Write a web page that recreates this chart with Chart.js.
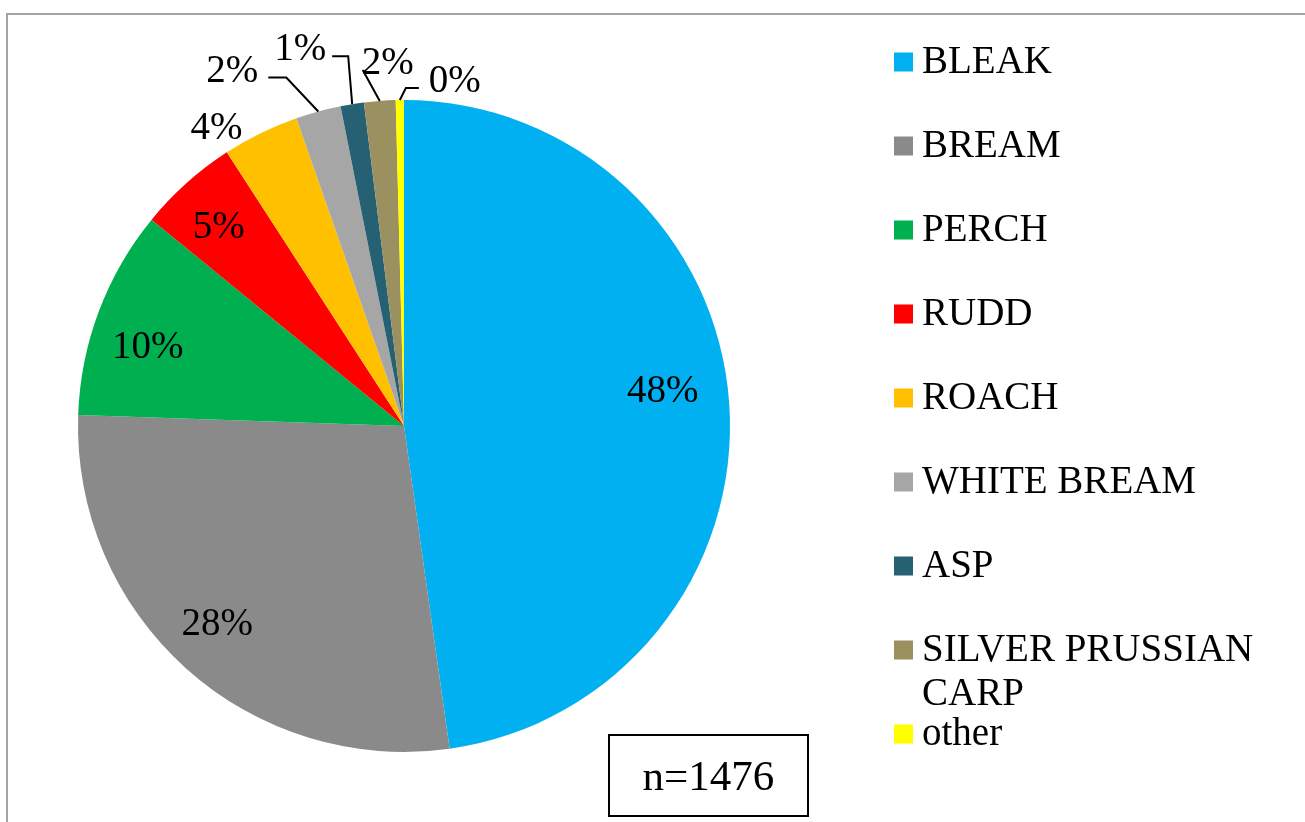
<!DOCTYPE html>
<html>
<head>
<meta charset="utf-8">
<script src="https://cdn.jsdelivr.net/npm/chart.js@4.4.1/dist/chart.umd.min.js"></script>
<style>
  html, body { margin: 0; padding: 0; background: #fff; }
  #wrap { position: relative; width: 1305px; height: 822px; overflow: hidden; }
  #frame { position: absolute; left: 6px; top: 13px; width: 1400px; height: 900px;
           border-top: 2px solid #a3a3a3; border-left: 2px solid #a3a3a3; }
  #chart { position: absolute; left: 0; top: 0; }
  #count { position: absolute; left: 608px; top: 734px; width: 197px; height: 79px;
           border: 2px solid #000; box-sizing: content-box;
           font: 43px 'Liberation Serif', 'Times New Roman', serif; color: #000;
           display: flex; align-items: center; justify-content: center; }
</style>
</head>
<body>
<div id="wrap">
  <div id="frame"></div>
  <canvas id="chart" width="1305" height="822"></canvas>
  <div id="count">n=1476</div>
</div>
<script>
// catch composition by species (number of fish)
const species = ['BLEAK', 'BREAM', 'PERCH', 'RUDD', 'ROACH', 'WHITE BREAM', 'ASP', 'SILVER PRUSSIAN CARP', 'other'];
const catches = [705, 410, 153, 73, 56, 33, 17, 23, 6];

const palette = ['#00b0f0', '#8a8a8a', '#00b050', '#ff0000', '#ffc000', '#a6a6a6', '#256073', '#9b9160', '#ffff00'];

const serif = "'Liberation Serif', 'Times New Roman', serif";

// where each percentage goes: inside slices sit at a fraction of the radius,
// the thin ones sit outside the rim with a leader line
const labelPlacement = [
    { dx: -8, dy: -18 },
    { dx: -8, dy: -3 },
    { dx: -6, dy: 13 },
    { dx: -7, dy: -2 },
    { outside: true, dx: -44, dy: -7 },
    { outside: true, dx: -86, dy: -42, leader: [[-32, -34], [-50, -34]] },
    { outside: true, dx: -52, dy: -57, leader: [[-4, -48], [-20, -48]] },
    { outside: true, dx: 8, dy: -40, leader: [[-17, -31]] },
    { outside: true, dx: 55, dy: -21, leader: [[6, -12], [19, -12]] }
];

const sliceLabels = {
    id: 'sliceLabels',
    afterDatasetsDraw(chart, args, opts) {
        const { ctx } = chart;
        const values = chart.data.datasets[0].data;
        const total = values.reduce((a, b) => a + b, 0);
        ctx.save();
        ctx.font = opts.font;
        ctx.fillStyle = '#000';
        ctx.strokeStyle = '#000';
        ctx.lineWidth = 2;
        ctx.textAlign = 'center';
        ctx.textBaseline = 'alphabetic';
        chart.getDatasetMeta(0).data.forEach((arc, i) => {
            const { x, y, startAngle, endAngle, outerRadius } =
                arc.getProps(['x', 'y', 'startAngle', 'endAngle', 'outerRadius'], true);
            const mid = (startAngle + endAngle) / 2;
            const place = opts.placement[i];
            const r = place.outside ? outerRadius : outerRadius * opts.insideRatio;
            const ax = x + Math.cos(mid) * r;
            const ay = y + Math.sin(mid) * r;
            if (place.leader) {
                ctx.beginPath();
                ctx.moveTo(ax, ay);
                place.leader.forEach(([lx, ly]) => ctx.lineTo(ax + lx, ay + ly));
                ctx.stroke();
            }
            const text = Math.round(values[i] / total * 100) + '%';
            ctx.fillText(text, ax + place.dx, ay + place.dy + opts.capShift);
        });
        ctx.restore();
    }
};

function wrapWords(ctx, text, maxWidth) {
    const lines = [];
    let line = '';
    text.split(' ').forEach(word => {
        const test = line ? line + ' ' + word : word;
        if (line && ctx.measureText(test).width > maxWidth) {
            lines.push(line);
            line = word;
        } else {
            line = test;
        }
    });
    lines.push(line);
    return lines;
}

const sideLegend = {
    id: 'sideLegend',
    afterDraw(chart, args, opts) {
        const { ctx } = chart;
        const colors = chart.data.datasets[0].backgroundColor;
        ctx.save();
        ctx.font = opts.font;
        ctx.textBaseline = 'alphabetic';
        ctx.textAlign = 'left';
        chart.data.labels.forEach((label, i) => {
            const cy = opts.top + i * opts.rowGap;
            ctx.fillStyle = colors[i];
            ctx.fillRect(opts.left, cy - opts.box / 2, opts.box, opts.box);
            ctx.fillStyle = '#000';
            const tx = opts.left + opts.box + opts.gap;
            wrapWords(ctx, label, opts.maxWidth).forEach((line, k) => {
                ctx.fillText(line, tx, cy + opts.capShift + k * opts.lineHeight);
            });
        });
        ctx.restore();
    }
};

new Chart(document.getElementById('chart'), {
    type: 'pie',
    data: {
        labels: species,
        datasets: [{
            data: catches,
            backgroundColor: palette,
            borderWidth: 0
        }]
    },
    options: {
        responsive: false,
        animation: false,
        events: [],
        layout: { padding: { left: 78, top: 100, right: 575, bottom: 70 } },
        plugins: {
            legend: { display: false },
            tooltip: { enabled: false },
            sliceLabels: {
                font: '39px ' + serif,
                insideRatio: 0.82,
                capShift: 13,
                placement: labelPlacement
            },
            sideLegend: {
                font: '39px ' + serif,
                left: 894,
                top: 62,
                rowGap: 84,
                box: 19,
                gap: 9,
                capShift: 11,
                lineHeight: 44,
                maxWidth: 345
            }
        }
    },
    plugins: [sliceLabels, sideLegend]
});
</script>
</body>
</html>
